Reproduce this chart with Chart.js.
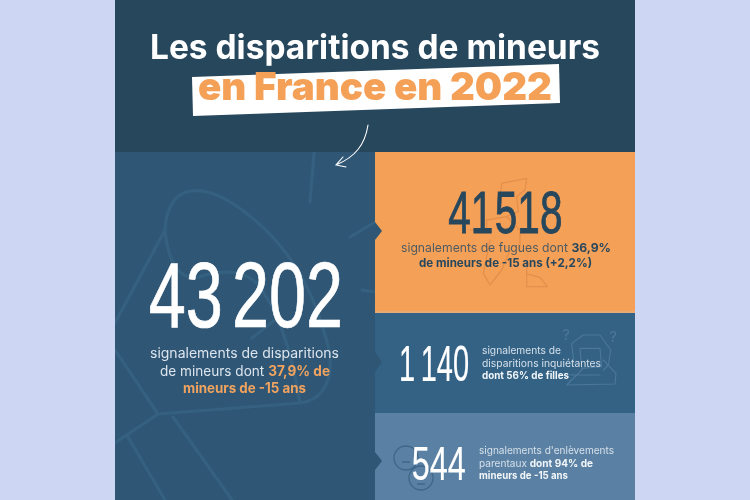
<!DOCTYPE html>
<html>
<head>
<meta charset="utf-8">
<style>
  html, body { margin: 0; padding: 0; background: #cdd7f3; }
  canvas { display: block; }
</style>
<script src="https://cdn.jsdelivr.net/npm/chart.js@4"></script>
</head>
<body>
<canvas id="myChart" width="750" height="500"></canvas>
<script>
// values
var categories = ['Disparitions', 'Fugues', 'Disparitions inquiétantes', 'Enlèvements parentaux'];
var counts = [43202, 41518, 1140, 544];
var titleLines = ['Les disparitions de mineurs', 'en France en 2022'];
var descDisparitions = [
  [['signalements de disparitions', 0]],
  [['de mineurs dont ', 0], ['37,9% de', 1]],
  [['mineurs de -15 ans', 1]]
];
var descFugues = [
  [['signalements de fugues dont ', 0], ['36,9%', 1]],
  [['de mineurs de -15 ans (+2,2%)', 1]]
];
var descInquietantes = [
  [['signalements de', 0]],
  [['disparitions inquiétantes', 0]],
  [['dont 56% de filles', 1]]
];
var descEnlevements = [
  [["signalements d'enlèvements", 0]],
  [['parentaux ', 0], ['dont 94% de', 1]],
  [['mineurs de -15 ans', 1]]
];

function fmt(n) {
  return String(n).replace(/\B(?=(\d{3})+$)/g, ' ');
}

function rect(ctx, c, x, y, w, h) {
  ctx.fillStyle = c;
  ctx.fillRect(x, y, w, h);
}

function poly(ctx, c, pts) {
  ctx.fillStyle = c;
  ctx.beginPath();
  pts.forEach(function (p, i) { i ? ctx.lineTo(p[0], p[1]) : ctx.moveTo(p[0], p[1]); });
  ctx.closePath();
  ctx.fill();
}

// one line of mixed weight text, stretched to the x0-x1 span
function textLine(ctx, runs, x0, x1, base, size, colors) {
  var fonts = ['400 ' + size + 'px Inter', '700 ' + size + 'px Inter'];
  var total = 0;
  runs.forEach(function (r) {
    ctx.font = fonts[r[1]];
    total += ctx.measureText(r[0]).width;
  });
  ctx.save();
  ctx.translate(x0, base);
  ctx.scale((x1 - x0) / total, 1);
  ctx.textAlign = 'left';
  ctx.textBaseline = 'alphabetic';
  var x = 0;
  runs.forEach(function (r) {
    ctx.font = fonts[r[1]];
    ctx.fillStyle = colors[r[1]];
    ctx.fillText(r[0], x, 0);
    x += ctx.measureText(r[0]).width;
  });
  ctx.restore();
}

// big condensed figure fitted into a box, the thousands gap is set by hand
function bigNumber(ctx, txt, x0, x1, top, bottom, gap, weight, color) {
  ctx.save();
  ctx.font = '100px "Liberation Sans Narrow", "Liberation Sans"';
  ctx.textAlign = 'left';
  ctx.textBaseline = 'alphabetic';
  var groups = txt.split(' ');
  var sizes = groups.map(function (g) {
    var m = ctx.measureText(g);
    return { left: m.actualBoundingBoxLeft, w: m.actualBoundingBoxRight + m.actualBoundingBoxLeft, up: m.actualBoundingBoxAscent };
  });
  var inkW = sizes.reduce(function (a, s) { return a + s.w; }, 0);
  var sx = (x1 - x0 - gap * (groups.length - 1)) / inkW;
  var sy = (bottom - top) / sizes[0].up;
  var x = x0;
  ctx.fillStyle = color;
  ctx.strokeStyle = color;
  ctx.lineWidth = weight;
  groups.forEach(function (g, i) {
    ctx.save();
    ctx.translate(x, bottom);
    ctx.scale(sx, sy);
    ctx.fillText(g, sizes[i].left, 0);
    ctx.strokeText(g, sizes[i].left, 0);
    ctx.restore();
    x += sizes[i].w * sx + gap;
  });
  ctx.restore();
}

function strokes(ctx, color, width, ox, oy, paths) {
  ctx.save();
  ctx.translate(ox, oy);
  ctx.scale(1 / 3, 1 / 3);
  ctx.strokeStyle = color;
  ctx.lineWidth = width * 3;
  ctx.lineCap = 'round';
  ctx.lineJoin = 'round';
  paths.forEach(function (p) {
    ctx.beginPath();
    ctx.moveTo(p[0], p[1]);
    for (var i = 2; i + 1 < p.length; i += 2) {
      ctx.lineTo(p[i], p[i + 1]);
    }
    ctx.stroke();
  });
  ctx.restore();
}

var infographic = {
  id: 'infographic',
  beforeDraw: function (chart) {
    var ctx = chart.ctx;
    var vals = chart.data.datasets[0].data;

    // panels
    rect(ctx, '#cdd7f3', 0, 0, 750, 500);
    rect(ctx, '#27475d', 115, 0, 520, 152);
    rect(ctx, '#2f5675', 115, 152, 260, 348);
    rect(ctx, '#f5a057', 375, 152, 260, 160);
    rect(ctx, '#336285', 375, 312, 260, 103);
    rect(ctx, '#5a80a3', 375, 413, 260, 87);
    rect(ctx, '#e6ab74', 375, 311, 260, 2);

    // megaphone in the background of the left panel
    ctx.save();
    ctx.beginPath();
    ctx.rect(115, 152, 260, 348);
    ctx.clip();
    ctx.strokeStyle = '#35607f';
    ctx.lineWidth = 3.2;
    ctx.lineCap = 'round';
    ctx.lineJoin = 'round';
    ctx.beginPath();
    ctx.moveTo(314, 153); ctx.lineTo(310, 202);
    ctx.moveTo(350, 237); ctx.lineTo(375, 222);
    ctx.moveTo(362, 290); ctx.lineTo(375, 292);
    // bell
    ctx.moveTo(165, 230);
    ctx.bezierCurveTo(168, 180, 205, 185, 235, 205);
    ctx.bezierCurveTo(280, 235, 310, 280, 325, 335);
    ctx.bezierCurveTo(338, 375, 325, 400, 300, 403);
    ctx.lineTo(158, 414);
    ctx.moveTo(165, 230); ctx.lineTo(115, 323);
    ctx.moveTo(115, 350); ctx.lineTo(158, 414);
    ctx.lineTo(115, 443);
    ctx.moveTo(128, 437); ctx.lineTo(165, 500);
    ctx.moveTo(173, 417); ctx.lineTo(232, 500);
    // inner curve of the bell
    ctx.moveTo(165, 230);
    ctx.bezierCurveTo(168, 262, 180, 285, 205, 275);
    ctx.bezierCurveTo(225, 270, 250, 270, 262, 290);
    ctx.bezierCurveTo(275, 310, 290, 340, 300, 403);
    ctx.moveTo(252, 338); ctx.lineTo(275, 320);
    ctx.stroke();
    ctx.restore();

    // notches between the left panel and the three boxes
    poly(ctx, '#2f5675', [[375, 222], [382, 231], [375, 240]]);
    poly(ctx, '#2f5675', [[375, 352], [382, 362], [375, 372]]);
    poly(ctx, '#2f5675', [[375, 452], [382, 461], [375, 470]]);

    // title
    textLine(ctx, [[titleLines[0], 1]], 150, 600, 59, 34, ['#fff', '#fff']);
    poly(ctx, '#ffffff', [[192, 77], [559, 64], [560, 103], [193, 116]]);
    ctx.save();
    ctx.font = '900 39px Inter';
    ctx.textBaseline = 'alphabetic';
    ctx.fillStyle = '#f5a057';
    var tw = ctx.measureText(titleLines[1]).width;
    ctx.translate(198, 100);
    ctx.scale(354 / tw, 1);
    ctx.fillText(titleLines[1], 0, 0);
    ctx.restore();

    // arrow
    ctx.save();
    ctx.strokeStyle = '#ffffff';
    ctx.lineWidth = 1.1;
    ctx.lineCap = 'round';
    ctx.beginPath();
    ctx.moveTo(368, 125);
    ctx.bezierCurveTo(365, 145, 355, 157, 336, 165);
    ctx.moveTo(343, 157); ctx.lineTo(336, 165); ctx.lineTo(346, 167);
    ctx.stroke();
    ctx.restore();

    // icons behind the text
    strokes(ctx, '#e48f4c', 1.3, 370, 150, [
      [390, 150, 395, 100, 470, 85, 465, 120, 440, 140, 445, 185, 410, 200],
      [300, 240, 350, 240, 350, 210, 410, 200, 450, 240, 450, 290],
      [360, 270, 340, 370, 360, 405, 395, 360, 420, 300],
      [470, 330, 470, 410, 532, 410, 510, 382, 470, 372]
    ]);
    strokes(ctx, '#4d7899', 1.1, 370, 310, [
      [612, 165, 605, 100, 640, 75, 690, 75, 722, 120, 715, 165, 700, 180],
      [630, 115, 690, 115, 695, 170, 635, 175, 630, 115],
      [640, 175, 590, 225, 735, 222, 738, 190, 700, 150],
      [600, 195, 690, 195]
    ]);
    ctx.fillStyle = '#4d7899';
    ctx.font = '15px Inter';
    ctx.textAlign = 'center';
    ctx.fillText('?', 566, 340);
    ctx.fillText('?', 613, 342);
    ctx.textAlign = 'left';
    ctx.save();
    ctx.strokeStyle = '#3f678a';
    ctx.lineWidth = 1.3;
    ctx.beginPath();
    ctx.arc(406, 458, 12, 0, Math.PI * 2);
    ctx.moveTo(433, 478);
    ctx.arc(421, 478, 12, 0, Math.PI * 2);
    ctx.moveTo(402, 462); ctx.lineTo(410, 462);
    ctx.moveTo(417, 484); ctx.lineTo(425, 484);
    ctx.stroke();
    ctx.restore();

    // figures
    bigNumber(ctx, fmt(vals[0]), 150, 340, 262, 327, 15, 0.8, '#ffffff');
    bigNumber(ctx, fmt(vals[1]), 449, 561, 192, 233, 5, 1.5, '#27475d');
    bigNumber(ctx, fmt(vals[2]), 401, 468, 347, 381, 9, 0.5, '#ffffff');
    bigNumber(ctx, fmt(vals[3]), 413, 465, 447, 480, 0, 0.5, '#ffffff');

    // descriptions
    var leftCol = ['#dce5ee', '#f0a35f'];
    textLine(ctx, descDisparitions[0], 150, 339, 358, 14, leftCol);
    textLine(ctx, descDisparitions[1], 160, 330, 376, 14, leftCol);
    textLine(ctx, descDisparitions[2], 183, 306, 393, 14, leftCol);

    var orangeCol = ['#4e5b62', '#27475d'];
    textLine(ctx, descFugues[0], 401, 611, 252, 12, orangeCol);
    textLine(ctx, descFugues[1], 419, 592, 267, 12, orangeCol);

    var blueCol = ['#d5e0ea', '#f2f6f9'];
    textLine(ctx, descInquietantes[0], 482, 561, 354, 10.5, blueCol);
    textLine(ctx, descInquietantes[1], 482, 601, 367, 10.5, blueCol);
    textLine(ctx, descInquietantes[2], 482, 569, 379, 10.5, blueCol);
    textLine(ctx, descEnlevements[0], 479, 614, 454, 10.5, blueCol);
    textLine(ctx, descEnlevements[1], 479, 593, 467, 10.5, blueCol);
    textLine(ctx, descEnlevements[2], 479, 568, 479, 10.5, blueCol);
  }
};

var ctx = document.getElementById('myChart').getContext('2d');
var myChart = new Chart(ctx, {
  type: 'bar',
  data: {
    labels: categories,
    datasets: [{
      label: 'Signalements',
      data: counts,
      backgroundColor: 'rgba(0, 0, 0, 0)'
    }]
  },
  options: {
    responsive: false,
    animation: false,
    plugins: {
      legend: { display: false },
      title: { display: false },
      tooltip: { enabled: false }
    },
    scales: {
      x: { display: false },
      y: { display: false, beginAtZero: true }
    }
  },
  plugins: [infographic]
});
</script>
</body>
</html>
